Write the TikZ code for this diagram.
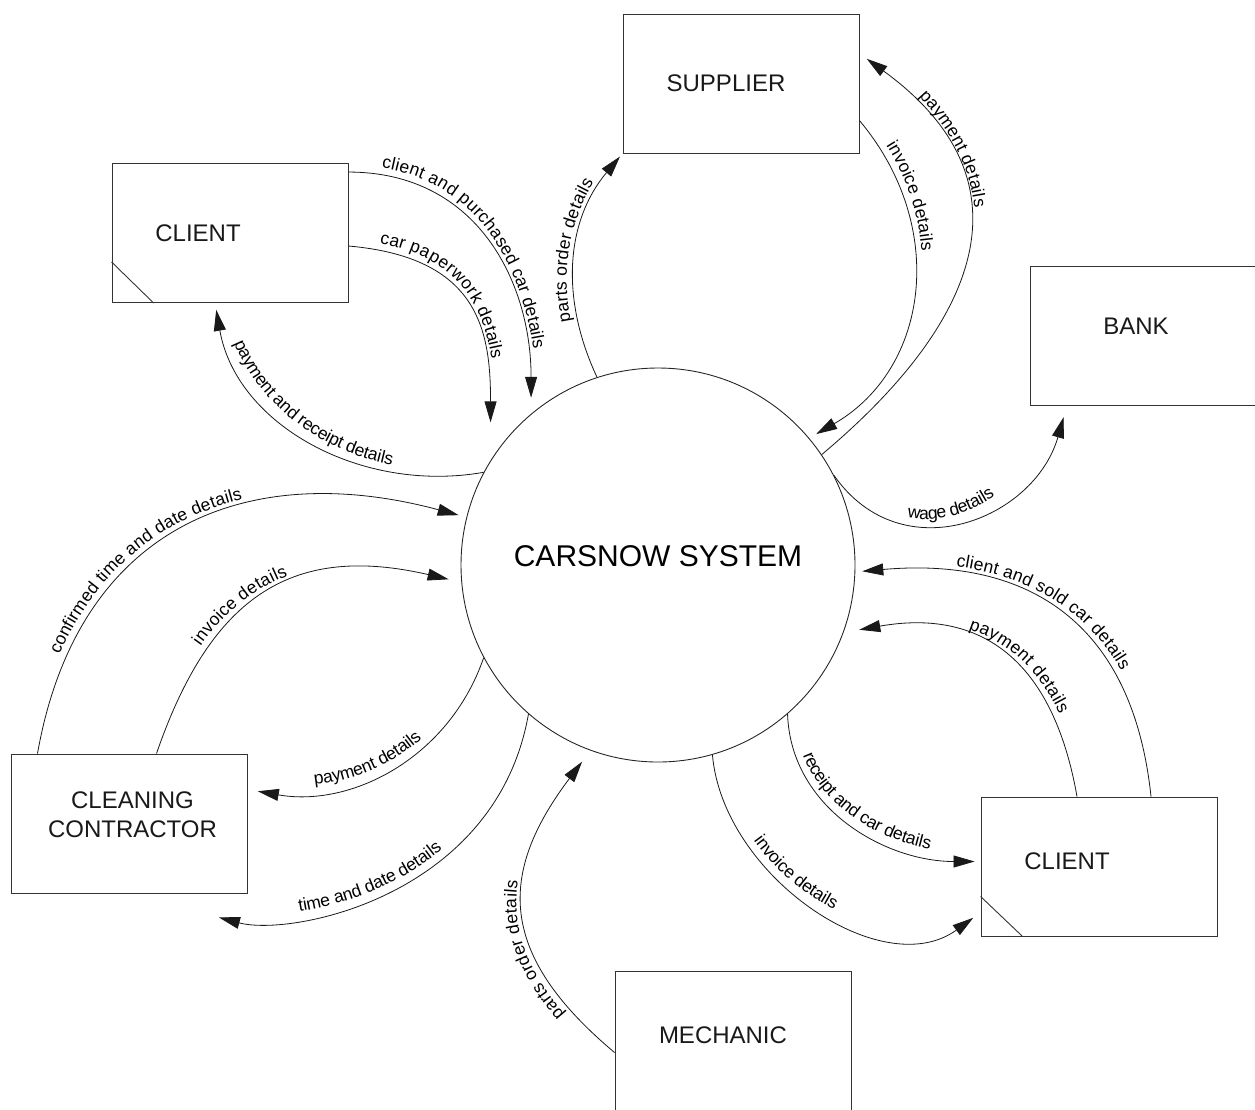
\documentclass[tikz,border=0pt]{standalone}
\usepackage{fontspec}
\setmainfont{Liberation Sans}
\usetikzlibrary{arrows.meta,decorations.text}

\newcommand\flowfont{\fontsize{17.5}{21}\selectfont}

\tikzset{
  ent/.style={draw=black!80, line width=0.9pt, minimum width=236pt, minimum height=139pt, inner sep=0pt},
  lbl/.style={font=\fontsize{24}{29}\selectfont, text=black!90, align=center},
  flow/.style={draw=black!90, line width=0.8pt, -{Triangle[length=21pt,width=12pt]}},
  backflow/.style={draw=black!90, line width=0.8pt, {Triangle[length=21pt,width=12pt]}-},
  say/.style 2 args={postaction={decorate, decoration={text along path, text={|\flowfont|#2}, raise=7pt, text align={left indent=#1}}}}
}

\begin{document}
\begin{tikzpicture}[x=1pt,y=1pt]
  \useasboundingbox (0,0) rectangle (1255,-1109);

  % the system
  \node [circle, draw=black!85, line width=0.9pt, minimum size=394pt, inner sep=0pt,
    label={[font=\fontsize{30}{36}\selectfont, yshift=9pt]center:CARSNOW SYSTEM}] (sys) at (658,-565) {};

  % external entities
  \node [ent, label={[lbl, xshift=-15pt]center:SUPPLIER}] (sup) at (741,-83.5) {};
  \node [ent, label={[lbl, xshift=-32pt]center:CLIENT}] (cl1) at (230,-233) {};
  \node [ent, label={[lbl, xshift=-12pt, yshift=9pt]center:BANK}] (bank) at (1148,-335.5) {};
  \node [ent, label={[lbl, xshift=3pt, yshift=9pt]center:CLEANING\\CONTRACTOR}] (cc) at (129.5,-823.5) {};
  \node [ent, label={[lbl, xshift=-32pt, yshift=5pt]center:CLIENT}] (cl2) at (1099,-866.5) {};
  \node [ent, label={[lbl, xshift=-10pt, yshift=5pt]center:MECHANIC}] (mech) at (733,-1040.5) {};

  % duplicate marks
  \draw [line width=0.9pt, black!80] ([yshift=41pt]cl1.south west) -- ([xshift=42pt]cl1.south west);
  \draw [line width=0.9pt, black!80] ([yshift=40pt]cl2.south west) -- ([xshift=42pt]cl2.south west);

  \coordinate (tdend) at ([xshift=-29pt,yshift=-24pt]cc.south east);

  % client (top)
  \draw [flow, shorten >=16pt, say={32pt}{client and purchased car details}] ([yshift=-9pt]cl1.north east) to[out=0, in=90, looseness=1.1] (sys.130);
  \draw [flow, shorten >=38pt, say={30pt}{car paperwork details}] ([yshift=-13pt]cl1.east) to[out=-5, in=90, looseness=1.3] (sys.148);
  \draw [backflow, shorten <=7pt, say={45pt}{payment and receipt details}] ([xshift=-15pt]cl1.south) to[out=-80, in=190] (sys.152);

  % supplier
  \draw [flow, shorten >=4pt, say={60pt}{parts order details}] (sys.108) to[out=115, in=230] (sup.south west);
  \draw [flow, shorten >=8pt, say={35pt}{invoice details}] ([yshift=-37pt]sup.east) to[out=-50, in=30, looseness=1.1] (sys.40);
  \draw [backflow, shorten <=9pt, say={72pt}{payment details}] ([yshift=30pt]sup.east) to[out=-36, in=40, looseness=1.35] (sys.34);

  % bank
  \draw [flow, shorten >=12pt, say={90pt}{wage details}] (sys.27) to[out=-55, in=-106, looseness=1.25] ([xshift=-81pt]bank.south);

  % cleaning contractor
  \draw [flow, shorten >=8pt, say={100pt}{confirmed time and date details}] ([xshift=-92pt]cc.north) to[out=80, in=165, looseness=1.2] (sys.166);
  \draw [flow, shorten >=13pt, say={115pt}{invoice details}] ([xshift=27pt]cc.north) to[out=71, in=167, looseness=1.25] (sys.185);
  \draw [backflow, shorten <=10pt, say={68pt}{payment details}] ([yshift=34pt]cc.east) to[out=-10, in=-109] (sys.208);
  \draw [backflow, say={82pt}{time and date details}] (tdend) .. controls +(-15:75) and +(-100:185) .. (sys.229);

  % mechanic
  \draw [flow, shorten >=14pt, say={62pt}{parts order details}] ([yshift=-12pt]mech.west) to[out=140, in=233, looseness=1.3] (sys.250);

  % client (bottom right)
  \draw [flow, shorten >=9pt, say={98pt}{invoice details}] (sys.286) to[out=-85, in=216] ([yshift=-46pt]cl2.west);
  \draw [flow, shorten >=6pt, say={45pt}{receipt and car details}] (sys.311) to[out=-88, in=180] ([yshift=5pt]cl2.west);
  \draw [backflow, shorten <=16pt, say={124pt}{payment details}] (sys.340) to[out=10, in=100, looseness=1.25] ([xshift=-22pt]cl2.north);
  \draw [backflow, shorten <=7pt, say={100pt}{client and sold car details}] (sys.358) to[out=5, in=96, looseness=1.2] ([xshift=52pt]cl2.north);
\end{tikzpicture}
\end{document}
